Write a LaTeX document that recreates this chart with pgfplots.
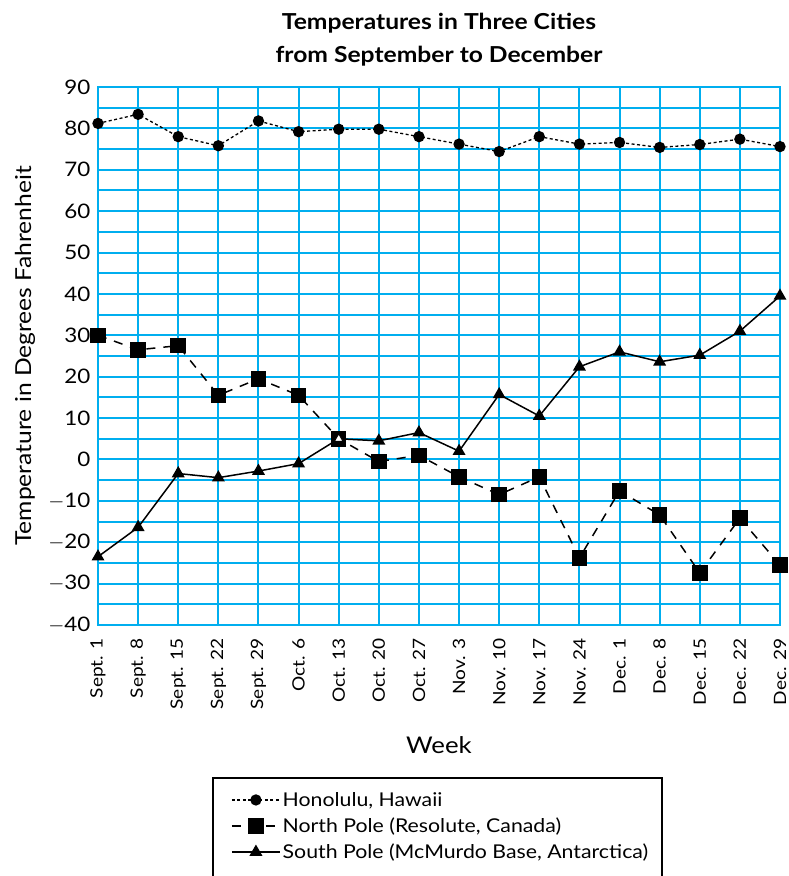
\documentclass[border=0pt]{standalone}
\usepackage{pgfplots}
\pgfplotsset{compat=1.18}
\usepackage{fontspec}
\setmainfont{Lato}[FakeStretch=1.12]
\definecolor{gridblue}{RGB}{0,174,239}

\pgfplotstableread{
x hon north south
0 81.2 30.0 -23.5
1 83.4 26.5 -16.4
2 78.0 27.5 -3.4
3 75.8 15.5 -4.4
4 81.8 19.5 -2.8
5 79.2 15.5 -1.0
6 79.8 5.0 5.0
7 79.8 -0.5 4.5
8 78.0 1.0 6.5
9 76.2 -4.2 2.0
10 74.4 -8.5 15.7
11 78.0 -4.2 10.5
12 76.2 -23.8 22.4
13 76.6 -7.6 26.0
14 75.4 -13.4 23.6
15 76.1 -27.4 25.2
16 77.4 -14.2 31.0
17 75.6 -25.5 39.5
}\temps

\begin{document}
\begin{tikzpicture}[x=1pt,y=1pt]
\useasboundingbox (0,0) rectangle (788,876);
\begin{axis}[
  at={(98pt,251pt)}, anchor=south west,
  scale only axis, width=682pt, height=538pt,
  xmin=0, xmax=17, ymin=-40, ymax=90,
  xtick={0,...,17},
  xticklabels={Sept. 1,Sept. 8,Sept. 15,Sept. 22,Sept. 29,Oct. 6,Oct. 13,Oct. 20,Oct. 27,Nov. 3,Nov. 10,Nov. 17,Nov. 24,Dec. 1,Dec. 8,Dec. 15,Dec. 22,Dec. 29},
  ytick={-40,-35,...,90},
  yticklabels={$-$40,,$-$30,,$-$20,,$-$10,,0,,10,,20,,30,,40,,50,,60,,70,,80,,90},
  grid=major,
  major grid style={gridblue, line width=2pt},
  axis line style={gridblue, line width=2pt},
  major tick length=0pt,
  /pgf/number format/assume math mode=true,
  yticklabel style={font=\fontsize{20}{22}\selectfont, xshift=-4pt},
  xticklabel style={font=\fontsize{17}{19}\selectfont, rotate=90, anchor=east, xshift=-10pt},
  title={Temperatures in Three Cities\\from September to December},
  title style={font=\fontsize{22}{33}\selectfont\bfseries, align=center, at={(axis description cs:0.5,1.077)}, anchor=center},
  xlabel={Week},
  xlabel style={font=\fontsize{23}{26}\selectfont, at={(axis description cs:0.5,-0.223)}, anchor=center},
  ylabel={Temperature in Degrees Fahrenheit},
  ylabel style={font=\fontsize{22}{24}\selectfont, at={(axis description cs:-0.107,0.5)}, anchor=center, rotate=0},
  clip=false,
  legend style={at={(axis description cs:0.1686,-0.2844)}, anchor=north west, draw=none, fill=none,
    font=\fontsize{19}{21}\selectfont, row sep=6pt, inner xsep=18pt, inner ysep=12pt,
    cells={anchor=west}},
  legend image code/.code={\draw[mark repeat=2,mark phase=2] plot coordinates {(0pt,0pt) (24pt,0pt) (48pt,0pt)};},
]
\addplot[black, line width=1.3pt, dash pattern=on 3pt off 2.5pt, mark=*, mark size=5pt, mark options={solid}] table[x=x,y=hon]{\temps};
\addlegendentry{Honolulu, Hawaii}
\addplot[black, line width=1.5pt, dash pattern=on 9pt off 8pt, mark=square*, mark size=7pt, mark options={solid}] table[x=x,y=north]{\temps};
\addlegendentry{North Pole (Resolute, Canada)}
\addplot[black, line width=1.5pt, mark=triangle*, mark size=6pt, mark options={solid}] table[x=x,y=south]{\temps};
\addlegendentry{South Pole (McMurdo Base, Antarctica)}
\addplot[black, only marks, mark=triangle*, mark size=5pt, mark options={fill=white, line width=1pt}, mark indices={7}, forget plot] table[x=x,y=south]{\temps};
\end{axis}
\draw[black, line width=1.5pt] (213,-10) -- (213,98) -- (662,98) -- (662,-10);
\end{tikzpicture}
\end{document}
